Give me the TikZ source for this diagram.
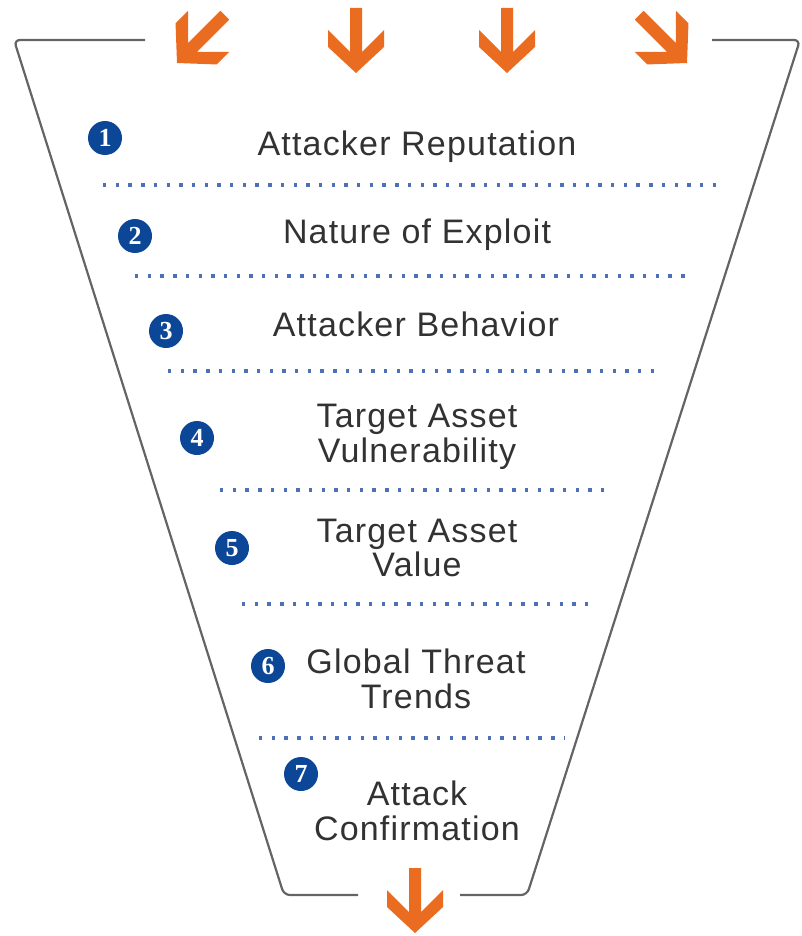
\documentclass[tikz,border=0pt]{standalone}
\usepackage{fontspec}
\setmainfont{Liberation Sans}
\newfontfamily\labelfont{Liberation Sans}[LetterSpace=3.5]
\newfontfamily\badgefont{Liberation Serif}
\usetikzlibrary{positioning}
\definecolor{funnelgrey}{RGB}{100,100,100}
\definecolor{arroworange}{RGB}{234,108,32}
\definecolor{stepblue}{RGB}{12,70,150}
\definecolor{dotblue}{RGB}{78,112,184}
\definecolor{labelgrey}{RGB}{50,50,50}
\tikzset{
  funnel/.style={draw=funnelgrey,line width=2.2pt,rounded corners=6pt},
  factor/.style={text=labelgrey,align=center,inner sep=0pt,
    font=\labelfont\fontsize{34}{34.5}\selectfont},
  badge/.style={circle,fill=stepblue,text=white,minimum size=34pt,
    inner sep=0pt,font=\badgefont\fontsize{26}{26}\selectfont\bfseries},
  divider/.style={draw=dotblue,line width=3.4pt,dash pattern=on 3.4pt off 9.3pt},
  inflow/.pic={
    \fill[arroworange] (0,0) -- (-28,-26) -- (-28,-43) -- (-6,-21) -- (-6,-65)
      -- (6,-65) -- (6,-21) -- (28,-43) -- (28,-26) -- cycle;
  }
}
\begin{document}
\begin{tikzpicture}[x=1pt,y=-1pt]
  \useasboundingbox (0,0) rectangle (802,936);
  % funnel outline
  \draw[funnel] (145,40) -- (14,40) -- (284,895) -- (358,895);
  \draw[funnel] (712,40) -- (800,40) -- (527,895) -- (460,895);
  % incoming and outgoing arrows
  \pic[rotate=-45,scale=1.04] at (177,63) {inflow};
  \pic at (356,73) {inflow};
  \pic at (507,73) {inflow};
  \pic[rotate=45,scale=1.04] at (687,63) {inflow};
  \pic at (415,933) {inflow};
  % factors
  \node[factor] (reputation) at (417,147) {Attacker Reputation};
  \node[factor] (exploit) at (417,235) {Nature of Exploit};
  \node[factor] (behavior) at (416,324) {Attacker Behavior};
  \node[factor] (vulnerability) at (417,437) {Target Asset\\Vulnerability};
  \node[factor] (assetvalue) at (417,548) {Target Asset\\Value};
  \node[factor] (trends) at (416,679) {Global Threat\\Trends};
  \node[factor] (confirmation) at (417,811) {Attack\\Confirmation};
  \node[badge] (b1) at (105,138) {1};
  \node[badge] (b2) at (135,236) {2};
  \node[badge] (b3) at (166,331) {3};
  \node[badge] (b4) at (197,438) {4};
  \node[badge] (b5) at (232,548) {5};
  \node[badge] (b6) at (268,666) {6};
  \node[badge] (b7) at (301,774) {7};
  % dotted separators
  \draw[divider] (103,185) -- (724,185);
  \draw[divider] (135,276) -- (690,276);
  \draw[divider] (168,371) -- (660,371);
  \draw[divider] (220,490) -- (604,490);
  \draw[divider] (242,604) -- (588,604);
  \draw[divider] (259,738) -- (565,738);
\end{tikzpicture}
\end{document}
